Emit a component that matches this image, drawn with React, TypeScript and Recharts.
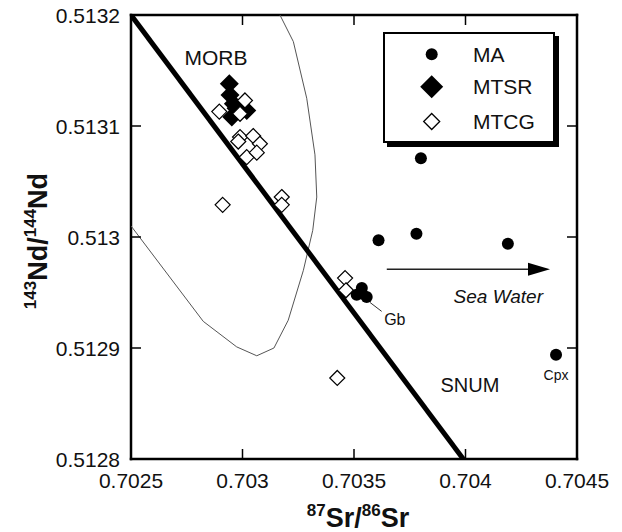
import React from 'react';
import { ScatterChart, Scatter, XAxis, YAxis, ReferenceDot, ReferenceLine, Legend } from 'recharts';

const FONT = '"Liberation Sans", Arial, Helvetica, sans-serif';

const xTicks = [0.7025, 0.703, 0.7035, 0.704, 0.7045];
const yTicks = [0.5128, 0.5129, 0.513, 0.5131, 0.5132];
const xDomain: [number, number] = [0.7025, 0.7045];
const yDomain: [number, number] = [0.5128, 0.5132];

const seriesNames = ['MA', 'MTSR', 'MTCG'];

// MA (filled circles)
const maSr = [0.7038, 0.70361, 0.70378, 0.70419, 0.703535, 0.703512, 0.703557, 0.703536, 0.704406];
const maNd = [0.513071, 0.512997, 0.513003, 0.512994, 0.512954, 0.512948, 0.512946, 0.512949, 0.512894];

// MTSR (large filled diamonds)
const mtsrSr = [0.702941, 0.702944, 0.702959, 0.703019, 0.702952, 0.702971];
const mtsrNd = [0.513138, 0.513128, 0.51312, 0.513114, 0.513108, 0.513116];

// MTCG (open diamonds)
const mtcgSr = [0.702896, 0.703011, 0.702989, 0.702989, 0.702981, 0.703048, 0.703078, 0.703019, 0.703064, 0.703176, 0.703176, 0.702911, 0.70346, 0.703464, 0.703425];
const mtcgNd = [0.513113, 0.513123, 0.513111, 0.51309, 0.513086, 0.513091, 0.513084, 0.513072, 0.513076, 0.513036, 0.513029, 0.513029, 0.512963, 0.512952, 0.512873];

// MORB field outline
const morbSr = [0.7025, 0.702824, 0.702974, 0.703064, 0.703141, 0.703205, 0.703273, 0.703315, 0.703333, 0.703325, 0.703288, 0.703228, 0.703168];
const morbNd = [0.51301, 0.512924, 0.512901, 0.512893, 0.5129, 0.512925, 0.51297, 0.513006, 0.513036, 0.513074, 0.513125, 0.513176, 0.5132];

// SNUM line
const snumSr = [0.7025, 0.70399];
const snumNd = [0.5132, 0.5128];

// Sea water arrow
const arrowSr = [0.703647, 0.704379];
const arrowNd = 0.512971;

// Gb leader
const gbLeaderSr = [0.703572, 0.703624];
const gbLeaderNd = [0.512941, 0.512933];

const pts = (xs: number[], ys: number[]) => xs.map((x, i) => ({ sr: x, nd: ys[i] }));
const maData = pts(maSr, maNd);
const mtsrData = pts(mtsrSr, mtsrNd);
const mtcgData = pts(mtcgSr, mtcgNd);
const morbData = pts(morbSr, morbNd);
const snumData = pts(snumSr, snumNd);

const fmt = (v: number) => String(Number(v.toFixed(4)));

const diamond = (cx: number, cy: number, h: number) =>
  `${cx},${cy - h} ${cx + h},${cy} ${cx},${cy + h} ${cx - h},${cy}`;

const CircleShape = (p: any) => <circle cx={p.cx} cy={p.cy} r={6} fill="#000" />;
const BigDiamond = (p: any) => <polygon points={diamond(p.cx, p.cy, 9.5)} fill="#000" />;
const OpenDiamond = (p: any) => (
  <polygon points={diamond(p.cx, p.cy, 7.5)} fill="#fff" stroke="#000" strokeWidth={1.2} />
);
const NoShape = () => <g />;

const BottomTick = (p: any) => (
  <g>
    <line x1={p.x} x2={p.x} y1={p.y} y2={p.y - 10} stroke="#000" strokeWidth={1.5} />
    <text x={p.x} y={p.y + 28.5} textAnchor="middle" fontSize={21} fontFamily={FONT} fill="#111">
      {fmt(p.payload.value)}
    </text>
  </g>
);
const TopTick = (p: any) => (
  <line x1={p.x} x2={p.x} y1={p.y} y2={p.y + 10} stroke="#000" strokeWidth={1.5} />
);
const LeftTick = (p: any) => (
  <g>
    <line x1={p.x} x2={p.x + 10} y1={p.y} y2={p.y} stroke="#000" strokeWidth={1.5} />
    <text x={p.x - 11} y={p.y + 7.5} textAnchor="end" fontSize={21} fontFamily={FONT} fill="#111">
      {fmt(p.payload.value)}
    </text>
  </g>
);
const RightTick = (p: any) => (
  <line x1={p.x} x2={p.x - 10} y1={p.y} y2={p.y} stroke="#000" strokeWidth={1.5} />
);

const XTitle = (props: any) => {
  const vb = props.viewBox || { x: 131, y: 459, width: 446 };
  return (
    <text x={vb.x + vb.width / 2 + 4} y={vb.y + 68} textAnchor="middle" fontFamily={FONT} fontWeight="bold" fill="#111">
      <tspan fontSize={17} dy={-11}>87</tspan>
      <tspan fontSize={27} dy={11}>Sr/</tspan>
      <tspan fontSize={17} dy={-11}>86</tspan>
      <tspan fontSize={27} dy={11}>Sr</tspan>
    </text>
  );
};

const YTitle = () => (
  <text x={47} y={241} transform="rotate(-90, 47, 241)" textAnchor="middle" fontFamily={FONT} fontWeight="bold" fill="#111">
    <tspan fontSize={17} dy={-11}>143</tspan>
    <tspan fontSize={27} dy={11}>Nd/</tspan>
    <tspan fontSize={17} dy={-11}>144</tspan>
    <tspan fontSize={27} dy={11}>Nd</tspan>
  </text>
);

const textShape = (label: string, size: number, italic = false) => (p: any) => (
  <text
    x={p.cx}
    y={p.cy}
    textAnchor="middle"
    dominantBaseline="central"
    fontSize={size}
    fontFamily={FONT}
    fontStyle={italic ? 'italic' : 'normal'}
    fill="#111"
  >
    {label}
  </text>
);

const ArrowHead = (p: any) => (
  <polygon points={`${p.cx},${p.cy} ${p.cx - 22},${p.cy - 6.5} ${p.cx - 22},${p.cy + 6.5}`} fill="#000" />
);

const LegendBox = () => (
  <svg width={182} height={120} style={{ display: 'block', overflow: 'visible' }}>
    <rect x={4} y={4} width={172} height={111} fill="#000" />
    <rect x={1} y={1} width={170} height={109} fill="#fff" stroke="#000" strokeWidth={2} />
    <circle cx={48.7} cy={22.3} r={6} fill="#000" />
    <polygon points={diamond(48.7, 54.7, 11.5)} fill="#000" />
    <polygon points={diamond(48.7, 89.5, 8)} fill="#fff" stroke="#000" strokeWidth={1.3} />
    {seriesNames.map((n, i) => (
      <text key={n} x={90} y={[22.3, 54.7, 89.5][i] + 7.5} fontSize={21} fontFamily={FONT} fill="#111">
        {n}
      </text>
    ))}
  </svg>
);

export default function App() {
  return (
    <div style={{ margin: '-8px 0 0 -8px', width: 622, height: 532 }}>
      <ScatterChart width={622} height={532} margin={{ top: 14, right: 44, bottom: 0, left: 0 }}>
        <XAxis
          xAxisId={0}
          type="number"
          dataKey="sr"
          domain={xDomain}
          ticks={xTicks}
          allowDataOverflow
          height={73}
          tickSize={0}
          tickMargin={0}
          tick={<BottomTick />}
          axisLine={{ stroke: '#000', strokeWidth: 2.5, strokeLinecap: 'square' }}
          label={{ content: XTitle }}
        />
        <XAxis
          xAxisId="top"
          orientation="top"
          type="number"
          dataKey="sr"
          domain={xDomain}
          ticks={xTicks}
          allowDataOverflow
          height={1}
          tickSize={0}
          tickMargin={0}
          tick={<TopTick />}
          axisLine={{ stroke: '#000', strokeWidth: 2.5, strokeLinecap: 'square' }}
        />
        <YAxis
          yAxisId={0}
          type="number"
          dataKey="nd"
          domain={yDomain}
          ticks={yTicks}
          allowDataOverflow
          width={131}
          tickSize={0}
          tickMargin={0}
          tick={<LeftTick />}
          axisLine={{ stroke: '#000', strokeWidth: 2.5, strokeLinecap: 'square' }}
          label={{ content: YTitle }}
        />
        <YAxis
          yAxisId="right"
          orientation="right"
          type="number"
          dataKey="nd"
          domain={yDomain}
          ticks={yTicks}
          allowDataOverflow
          width={1}
          tickSize={0}
          tickMargin={0}
          tick={<RightTick />}
          axisLine={{ stroke: '#000', strokeWidth: 2.5, strokeLinecap: 'square' }}
        />
        <Legend
          layout="vertical"
          align="center"
          verticalAlign="middle"
          content={() => <LegendBox />}
          wrapperStyle={{ position: 'absolute', left: 383, top: 32, width: 182, height: 120 }}
        />
        <Scatter
          name="MORB"
          data={morbData}
          xAxisId="top"
          yAxisId="right"
          line={{ stroke: '#555', strokeWidth: 1 }}
          shape={NoShape}
          legendType="none"
          isAnimationActive={false}
        />
        <Scatter
          name="SNUM"
          data={snumData}
          line={{ stroke: '#000', strokeWidth: 5 }}
          shape={NoShape}
          legendType="none"
          isAnimationActive={false}
        />
        <ReferenceLine
          segment={[{ x: arrowSr[0], y: arrowNd }, { x: arrowSr[1] - 0.00005, y: arrowNd }]}
          stroke="#222"
          strokeWidth={1.5}
        />
        <ReferenceDot x={arrowSr[1]} y={arrowNd} r={0} shape={ArrowHead} />
        <ReferenceLine
          segment={[{ x: gbLeaderSr[0], y: gbLeaderNd[0] }, { x: gbLeaderSr[1], y: gbLeaderNd[1] }]}
          stroke="#333"
          strokeWidth={1}
        />
        <Scatter name="MTSR" data={mtsrData} shape={BigDiamond} isAnimationActive={false} />
        <Scatter name="MTCG" data={mtcgData} shape={OpenDiamond} isAnimationActive={false} />
        <Scatter name="MA" data={maData} shape={CircleShape} isAnimationActive={false} />
        <ReferenceDot x={0.702881} y={0.513162} r={0} shape={textShape('MORB', 21)} />
        <ReferenceDot x={0.70402} y={0.512867} r={0} shape={textShape('SNUM', 20)} />
        <ReferenceDot x={0.704147} y={0.512946} r={0} shape={textShape('Sea Water', 19, true)} />
        <ReferenceDot x={0.703683} y={0.512926} r={0} shape={textShape('Gb', 16)} />
        <ReferenceDot x={0.704406} y={0.512876} r={0} shape={textShape('Cpx', 14)} />
      </ScatterChart>
    </div>
  );
}
